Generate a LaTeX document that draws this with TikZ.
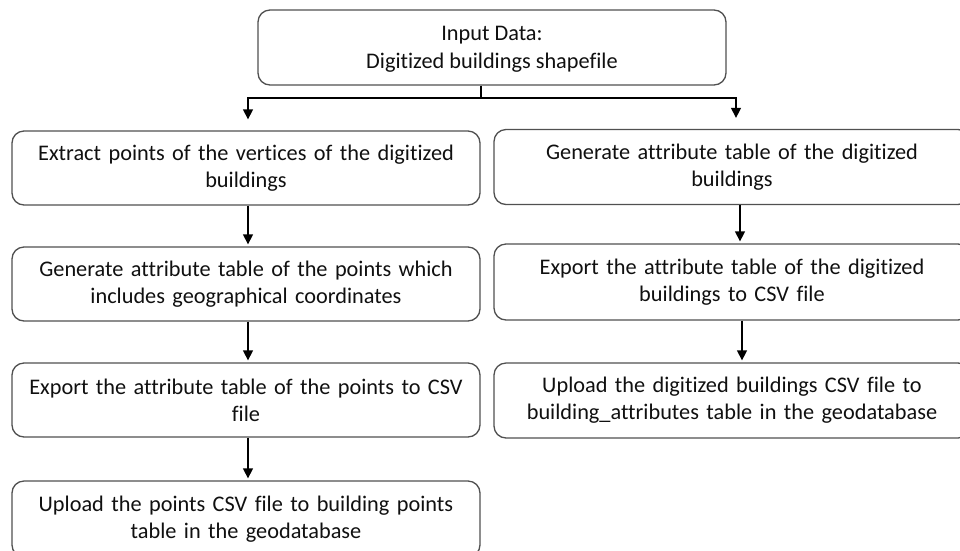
\documentclass[tikz,border=0pt]{standalone}
\usepackage{fontspec}
\setmainfont{Carlito}[Ligatures=NoCommon]
\usetikzlibrary{arrows.meta,calc}
\definecolor{boxline}{HTML}{505050}
\definecolor{ink}{HTML}{101010}
\begin{document}
\begin{tikzpicture}[x=1pt,y=-1pt,
  flowbox/.style={draw=boxline,line width=1.3pt,rounded corners=12pt,
    align=center,text=ink,inner sep=0pt,
    font=\fontsize{22.3}{27}\selectfont},
  flowarrow/.style={draw=black,line width=1.3pt,
    -{Triangle[width=10pt,length=10pt]}}]
\useasboundingbox (0,0) rectangle (960,550);
\clip (0,0) rectangle (960,550);
\fill[white] (0,0) rectangle (960,550);

% source box
\node[flowbox,minimum width=468pt,minimum height=75pt] (top) at (492,47.5) {};
\node[text=ink,align=center,inner sep=0pt,
  font=\fontsize{22.3}{28}\selectfont] (toptext) at (492,49.5)
  {Input Data:\\Digitized buildings shapefile};

% left column: vertex points
\node[flowbox,minimum width=468pt,minimum height=74pt,text width=450pt] (l1) at (246,168)
  {Extract points of the vertices of the digitized\\buildings};
\node[flowbox,minimum width=468pt,minimum height=74pt,text width=450pt] (l2) at (246,284)
  {Generate attribute table of the points which\\includes geographical coordinates};
\node[flowbox,minimum width=468pt,minimum height=74pt,text width=450pt] (l3) at (246,400)
  {Export the attribute table of the points to CSV\\file};
\node[flowbox,minimum width=468pt,minimum height=76pt,text width=450pt] (l4) at (246,519)
  {Upload the points CSV file to building points\\table in the geodatabase};

% right column: building attributes
\node[flowbox,minimum width=476pt,minimum height=75pt,text width=460pt] (r1) at (732,167)
  {Generate attribute table of the digitized\\buildings};
\node[flowbox,minimum width=476pt,minimum height=76pt,text width=460pt] (r2) at (732,282)
  {Export the attribute table of the digitized\\buildings to CSV file};
\node[flowbox,minimum width=476pt,minimum height=75pt,text width=460pt] (r3) at (732,400.5)
  {Upload the digitized buildings CSV file to\\building\_attributes table in the geodatabase};

% split below the source box
\coordinate (split) at (481,98);
\draw[line width=1.3pt] (top.south -| split) -- (split);
\draw[flowarrow,shorten >=11pt] (split) -| ([xshift=2pt]l1.north);
\draw[flowarrow,shorten >=11pt] (split) -| ([xshift=4pt]r1.north);

% steps within each column
\draw[flowarrow,shorten >=2pt] ([xshift=2pt]l1.south) -- ([xshift=2pt]l2.north);
\draw[flowarrow,shorten >=2pt] ([xshift=2pt]l2.south) -- ([xshift=2pt]l3.north);
\draw[flowarrow,shorten >=2pt] ([xshift=2pt]l3.south) -- ([xshift=2pt]l4.north);
\draw[flowarrow,shorten >=2pt] ([xshift=8pt]r1.south) -- ([xshift=8pt]r2.north);
\draw[flowarrow,shorten >=2pt] ([xshift=10pt]r2.south) -- ([xshift=10pt]r3.north);
\end{tikzpicture}
\end{document}
